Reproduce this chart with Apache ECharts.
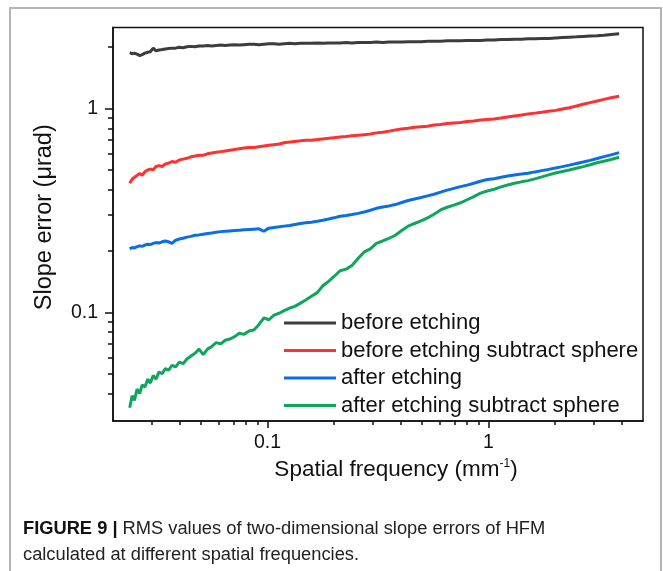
<!DOCTYPE html>
<html>
<head>
<meta charset="utf-8">
<script src="https://cdn.jsdelivr.net/npm/echarts@6/dist/echarts.min.js"></script>
<style>
  html, body { margin: 0; padding: 0; background: #fff; }
  #chart { width: 663px; height: 571px; }
</style>
</head>
<body>
<div id="chart"></div>
<script>
// spatial frequency (mm^-1)
var freq = [
  0.0238, 0.0244, 0.025, 0.0257, 0.0264, 0.0271, 0.0279, 0.0287, 0.0295, 0.0304,
  0.0313, 0.0323, 0.0334, 0.0345, 0.0357, 0.037, 0.0384, 0.0399, 0.0415, 0.0432,
  0.045, 0.047, 0.049, 0.0512, 0.0535, 0.056, 0.0586, 0.0614, 0.0644, 0.0676,
  0.071, 0.0746, 0.0784, 0.0825, 0.0868, 0.0914, 0.0963, 0.1015, 0.107, 0.113,
  0.119, 0.126, 0.133, 0.141, 0.149, 0.158, 0.168, 0.178, 0.189, 0.2,
  0.213, 0.227, 0.241, 0.257, 0.274, 0.292, 0.311, 0.332, 0.355, 0.379,
  0.405, 0.433, 0.463, 0.495, 0.53, 0.567, 0.607, 0.65, 0.697, 0.747,
  0.8, 0.858, 0.92, 0.987, 1.06, 1.14, 1.22, 1.31, 1.41, 1.51,
  1.62, 1.74, 1.87, 2.01, 2.16, 2.32, 2.5, 2.68, 2.88, 3.1,
  3.33, 3.58, 3.9
];

// slope error (urad)
var beforeEtching = [
  1.88, 1.86, 1.87, 1.85, 1.82, 1.84, 1.87, 1.89, 1.90, 1.98,
  1.92, 1.94, 1.95, 1.96, 1.97, 1.98, 1.98, 2.00, 1.99, 2.01,
  2.02, 2.01, 2.03, 2.03, 2.04, 2.03, 2.04, 2.05, 2.04, 2.05,
  2.06, 2.05, 2.06, 2.07, 2.07, 2.06, 2.07, 2.08, 2.08, 2.07,
  2.08, 2.09, 2.08, 2.09, 2.09, 2.09, 2.10, 2.09, 2.10, 2.10,
  2.10, 2.11, 2.10, 2.11, 2.11, 2.11, 2.12, 2.11, 2.12, 2.12,
  2.12, 2.13, 2.13, 2.13, 2.14, 2.14, 2.14, 2.15, 2.15, 2.15,
  2.16, 2.16, 2.16, 2.17, 2.17, 2.18, 2.18, 2.19, 2.19, 2.20,
  2.20, 2.21, 2.21, 2.22, 2.23, 2.24, 2.25, 2.26, 2.27, 2.28,
  2.29, 2.31, 2.33
];

var beforeSubtract = [
  0.43, 0.45, 0.46, 0.47, 0.48, 0.47, 0.49, 0.50, 0.505, 0.50,
  0.52, 0.525, 0.52, 0.535, 0.54, 0.55, 0.545, 0.56, 0.565, 0.57,
  0.58, 0.585, 0.59, 0.59, 0.60, 0.605, 0.61, 0.615, 0.62, 0.625,
  0.63, 0.635, 0.64, 0.645, 0.645, 0.65, 0.655, 0.66, 0.665, 0.67,
  0.68, 0.685, 0.69, 0.695, 0.70, 0.70, 0.705, 0.71, 0.715, 0.72,
  0.725, 0.73, 0.735, 0.74, 0.745, 0.75, 0.76, 0.765, 0.775, 0.785,
  0.795, 0.80, 0.81, 0.815, 0.82, 0.83, 0.835, 0.845, 0.85, 0.855,
  0.865, 0.87, 0.88, 0.885, 0.89, 0.90, 0.91, 0.92, 0.93, 0.94,
  0.95, 0.96, 0.97, 0.98, 0.995, 1.01, 1.03, 1.05, 1.07, 1.09,
  1.11, 1.13, 1.15
];

var afterEtching = [
  0.205, 0.208, 0.207, 0.210, 0.212, 0.211, 0.214, 0.216, 0.215, 0.218,
  0.220, 0.219, 0.222, 0.224, 0.222, 0.218, 0.226, 0.229, 0.231, 0.234,
  0.236, 0.239, 0.240, 0.242, 0.244, 0.245, 0.247, 0.249, 0.250, 0.251,
  0.252, 0.253, 0.254, 0.255, 0.256, 0.257, 0.250, 0.259, 0.261, 0.263,
  0.265, 0.267, 0.270, 0.273, 0.275, 0.277, 0.280, 0.283, 0.287, 0.291,
  0.296, 0.299, 0.302, 0.306, 0.311, 0.317, 0.324, 0.329, 0.333, 0.338,
  0.346, 0.354, 0.360, 0.366, 0.373, 0.380, 0.389, 0.398, 0.406, 0.414,
  0.421, 0.430, 0.440, 0.449, 0.453, 0.460, 0.467, 0.472, 0.477, 0.482,
  0.489, 0.496, 0.503, 0.511, 0.519, 0.528, 0.538, 0.547, 0.557, 0.569,
  0.581, 0.593, 0.608
];

var afterSubtract = [
  0.034, 0.039, 0.037, 0.042, 0.040, 0.044, 0.043, 0.047, 0.045, 0.049,
  0.047, 0.051, 0.050, 0.053, 0.052, 0.055, 0.054, 0.057, 0.056, 0.059,
  0.061, 0.063, 0.066, 0.062, 0.066, 0.068, 0.071, 0.070, 0.073, 0.074,
  0.076, 0.079, 0.078, 0.081, 0.082, 0.087, 0.094, 0.092, 0.097, 0.099,
  0.102, 0.105, 0.107, 0.111, 0.115, 0.120, 0.125, 0.135, 0.142, 0.150,
  0.160, 0.163, 0.170, 0.184, 0.198, 0.205, 0.218, 0.224, 0.231, 0.239,
  0.252, 0.265, 0.273, 0.281, 0.291, 0.303, 0.318, 0.328, 0.336, 0.345,
  0.357, 0.370, 0.385, 0.394, 0.402, 0.413, 0.422, 0.430, 0.437, 0.443,
  0.452, 0.462, 0.473, 0.483, 0.491, 0.500, 0.510, 0.519, 0.530, 0.542,
  0.552, 0.563, 0.577
];

var seriesNames = [
  'before etching',
  'before etching subtract sphere',
  'after etching',
  'after etching subtract sphere'
];
var seriesColors = ['#3c3c3c', '#ff3030', '#0a6ee6', '#0fa65c'];

// minor tick positions on the log axes
var xMinorTicks = [0.03, 0.04, 0.05, 0.06, 0.07, 0.08, 0.09, 0.2, 0.3, 0.4, 0.5, 0.6, 0.7, 0.8, 0.9, 2, 3, 4];
var yMinorTicks = [0.04, 0.05, 0.06, 0.07, 0.08, 0.09, 0.2, 0.3, 0.4, 0.5, 0.6, 0.7, 0.8, 0.9, 2];

var font = '"Liberation Sans", Arial, sans-serif';

function pairs(xs, ys) {
  return xs.map(function (x, i) { return [x, ys[i]]; });
}

var allValues = [beforeEtching, beforeSubtract, afterEtching, afterSubtract];

var chart = echarts.init(document.getElementById('chart'));
chart.setOption({
  animation: false,
  backgroundColor: '#fff',
  textStyle: { fontFamily: font },
  grid: {
    left: 113,
    right: 20,
    top: 27.5,
    bottom: 150,
    show: true,
    borderColor: '#111',
    borderWidth: 1.5
  },
  legend: {
    orient: 'vertical',
    left: 279,
    top: 307,
    icon: 'rect',
    itemWidth: 52,
    itemHeight: 3,
    itemGap: 5.5,
    data: seriesNames,
    textStyle: { fontFamily: font, fontSize: 22, color: '#111', lineHeight: 22 }
  },
  xAxis: [
    {
      type: 'log',
      min: 0.02,
      max: 5,
      name: 'Spatial frequency (mm{sup|-1})',
      nameLocation: 'middle',
      nameGap: 33,
      nameTextStyle: {
        fontFamily: font,
        fontSize: 22.5,
        color: '#111',
        padding: [0, 0, 0, 36],
        rich: { sup: { fontFamily: font, fontSize: 12, verticalAlign: 'top', padding: [0, 0, 10, 0], color: '#111' } }
      },
      axisLine: { lineStyle: { color: '#111', width: 1.5 } },
      axisTick: { inside: false, length: 7, lineStyle: { color: '#111', width: 1.5 } },
      axisLabel: { fontFamily: font, fontSize: 19.5, color: '#111', margin: 12, showMinLabel: false, showMaxLabel: false },
      splitLine: { show: false }
    },
    {
      type: 'log',
      min: 0.02,
      max: 5,
      position: 'bottom',
      axisLine: { show: false },
      axisTick: { length: 4, customValues: xMinorTicks, lineStyle: { color: '#111', width: 1.5 } },
      axisLabel: { show: false },
      splitLine: { show: false }
    }
  ],
  yAxis: [
    {
      type: 'log',
      min: 0.0293,
      max: 2.5,
      name: 'Slope error (\u03bcrad)',
      nameLocation: 'middle',
      nameGap: 56,
      nameTextStyle: { fontFamily: font, fontSize: 23.5, color: '#111', padding: [0, 0, 0, 14] },
      axisLine: { lineStyle: { color: '#111', width: 1.5 } },
      axisTick: { inside: false, length: 8, lineStyle: { color: '#111', width: 1.5 } },
      axisLabel: { fontFamily: font, fontSize: 19.5, color: '#111', margin: 15, showMinLabel: false, showMaxLabel: false },
      splitLine: { show: false }
    },
    {
      type: 'log',
      min: 0.0293,
      max: 2.5,
      position: 'left',
      axisLine: { show: false },
      axisTick: { length: 5, customValues: yMinorTicks, lineStyle: { color: '#111', width: 1.5 } },
      axisLabel: { show: false },
      splitLine: { show: false }
    }
  ],
  series: seriesNames.map(function (name, i) {
    return {
      name: name,
      type: 'line',
      xAxisIndex: 0,
      yAxisIndex: 0,
      showSymbol: false,
      symbol: 'none',
      color: seriesColors[i],
      lineStyle: { color: seriesColors[i], width: 3 },
      data: pairs(freq, allValues[i])
    };
  }),
  graphic: [
    {
      type: 'rect',
      shape: { x: 10, y: 8, width: 651, height: 620 },
      style: { fill: 'none', stroke: '#b4b4b4', lineWidth: 2 },
      silent: true
    },
    {
      type: 'text',
      left: 23,
      top: 516,
      style: {
        text: '{b|FIGURE 9 |} RMS values of two-dimensional slope errors of HFM\ncalculated at different spatial frequencies.',
        fontFamily: font,
        fontSize: 18.3,
        lineHeight: 26,
        fill: '#222',
        rich: {
          b: { fontFamily: font, fontSize: 18.3, fontWeight: 'bold', fill: '#111', lineHeight: 26 }
        }
      }
    }
  ]
});
</script>
</body>
</html>
